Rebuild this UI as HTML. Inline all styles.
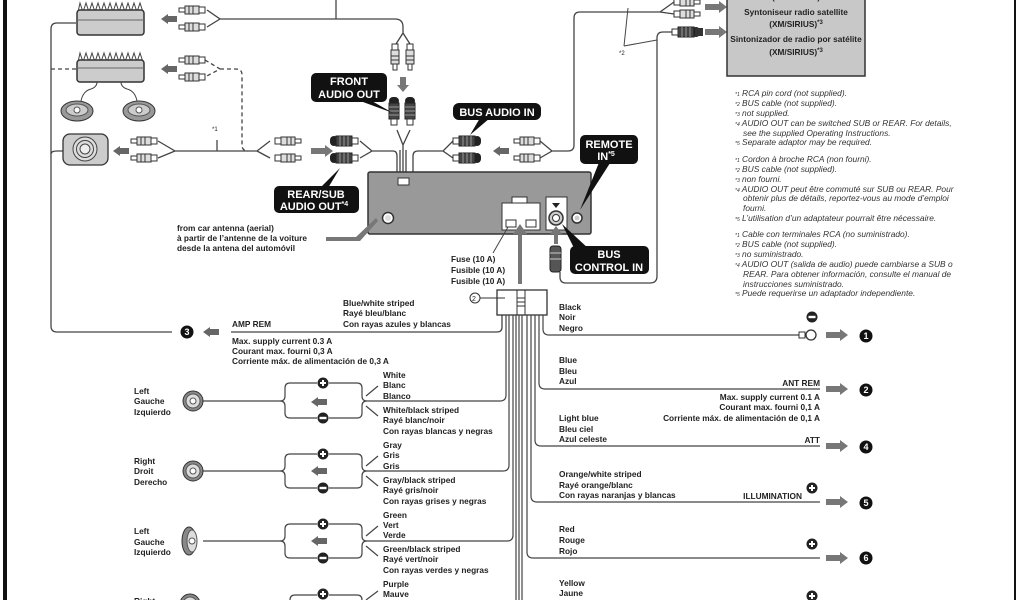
<!DOCTYPE html>
<html><head><meta charset="utf-8"><style>
html,body{margin:0;padding:0;background:#fff}
svg{display:block}
text{font-family:"Liberation Sans",sans-serif;font-weight:bold;font-size:8.3px;fill:#222}
.n{font-style:italic;font-weight:normal;font-size:8.4px;fill:#333}
.w{fill:#fff;font-size:11px}
.c{fill:#fff;font-size:9px;text-anchor:middle}
.r{text-anchor:end}
</style></head><body>
<svg width="1024" height="600" viewBox="0 0 1024 600" xmlns="http://www.w3.org/2000/svg">
<defs>
<g id="pl">
<rect x="0" y="-2" width="6" height="4" fill="#fff" stroke="#333" stroke-width="1"/>
<rect x="6" y="-4" width="14" height="8" fill="#ddd" stroke="#333" stroke-width="1"/>
<line x1="10" y1="-4" x2="10" y2="4" stroke="#333"/><line x1="14" y1="-4" x2="14" y2="4" stroke="#333"/>
<rect x="20" y="-3" width="6" height="6" fill="#fff" stroke="#333"/>
</g>
<g id="jk">
<rect x="0" y="-5" width="8" height="10" rx="4" fill="#222"/>
<rect x="6" y="-5" width="16" height="10" fill="#444" stroke="#222"/>
<line x1="10" y1="-5" x2="10" y2="5" stroke="#999"/><line x1="14" y1="-5" x2="14" y2="5" stroke="#999"/><line x1="18" y1="-5" x2="18" y2="5" stroke="#999"/>
<rect x="22" y="-3" width="6" height="6" fill="#fff" stroke="#333"/>
</g>
<g id="aL"><polygon points="0,0 7,-5 7,-3 16,-3 16,3 7,3 7,5" fill="#666"/></g>
<g id="aR"><polygon points="22,0 14,-6 14,-3 0,-3 0,3 14,3 14,6" fill="#777"/></g>
<g id="pm"><circle r="5.5" fill="#222"/><rect x="-3" y="-1" width="6" height="2" fill="#fff"/><rect x="-1" y="-3" width="2" height="6" fill="#fff"/></g>
<g id="mn"><circle r="5.5" fill="#222"/><rect x="-3.5" y="-1.2" width="7" height="2.4" fill="#fff"/></g>
<g id="spk"><circle r="10" fill="#888" stroke="#333"/><circle r="7" fill="#ddd" stroke="#555"/><circle r="3" fill="#fff" stroke="#555"/></g>
</defs>

<rect x="3" y="0" width="4" height="600" fill="#111"/>
<rect x="1014" y="0" width="2" height="600" fill="#111"/>

<g fill="none" stroke="#444" stroke-width="1.3">
<path d="M76,23 H57 q-6,0 -6,6 V326 q0,6 6,6 H172"/>
<path d="M231,332 H497 q5,0 5,-5 V315"/>
<path d="M51,154 q0,-3 6,-3 H63"/>
<path d="M207,10 L220,19 L207,27 M220,19 H395 q8,0 8,8 V33 L396,44 M403,33 L410,44"/>
<line x1="336" y1="0" x2="336" y2="19"/>
<path d="M397,130 L403,145 L410,130 M403,145 V183 M400,150 V183 M406,150 V183"/>
<path d="M158,141 L175,151 L158,158 M175,151 H257 L270,141 M257,151 L270,158"/>
<line x1="217" y1="140" x2="217" y2="151"/>
<path d="M360,141 L372,151 L360,158 M372,151 H393 q4,0 4,5 V183"/>
<path d="M453,141 L443,151 L453,158 M443,151 H418 q-5,0 -5,5 V183"/>
<path d="M540,141 L552,151 L540,158 M552,151 H568 q6,0 6,-6 V18 q0,-6 6,-6 H660 L674,2 M660,12 L674,14"/>
<path d="M628,8 L624,46 M657,40 L624,46" stroke-width="1"/>
<path d="M657,276 V38 q0,-6 6,-6 H672 M657,276 q0,7 -7,7 H566 q-6,0 -6,-6 V272"/>
</g>
<path d="M51,69 H76" fill="none" stroke="#444" stroke-width="1.3" stroke-dasharray="4,3"/>
<path d="M205,60 L220,69 L205,77 M220,69 H236 q6,0 6,6 V145 q0,6 6,6" fill="none" stroke="#444" stroke-width="1.3" stroke-dasharray="4,3"/>

<polyline points="78,12 80,3 83,12 86,3 89,12 92,3 95,12 98,3 101,12 104,3 107,12 110,3 113,12 116,3 119,12 122,3 125,12 128,3 131,12 134,3 137,12 140,3 143,12" fill="none" stroke="#444" stroke-width="1"/>
<rect x="77" y="10" width="67" height="25" rx="3" fill="#ccc" stroke="#333" stroke-width="1.5"/>
<line x1="77" y1="20" x2="144" y2="20" stroke="#666"/>
<polyline points="78,62 80,53 83,62 86,53 89,62 92,53 95,62 98,53 101,62 104,53 107,62 110,53 113,62 116,53 119,62 122,53 125,62 128,53 131,62 134,53 137,62 140,53 143,62" fill="none" stroke="#444" stroke-width="1"/>
<rect x="77" y="60" width="67" height="22" rx="3" fill="#ccc" stroke="#333" stroke-width="1.5"/>
<line x1="77" y1="68" x2="144" y2="68" stroke="#666"/>
<path d="M97,82 q0,5 -6,7 q-8,2 -10,12 M121,82 q0,5 6,7 q8,2 10,12" fill="none" stroke="#444"/>
<ellipse cx="77" cy="111" rx="16" ry="10" fill="#999" stroke="#333"/><ellipse cx="77" cy="110" rx="11" ry="6" fill="#ccc" stroke="#555"/><circle cx="77" cy="110" r="3" fill="#fff" stroke="#555"/>
<ellipse cx="139" cy="111" rx="16" ry="10" fill="#999" stroke="#333"/><ellipse cx="139" cy="110" rx="11" ry="6" fill="#ccc" stroke="#555"/><circle cx="139" cy="110" r="3" fill="#fff" stroke="#555"/>
<rect x="63" y="134" width="45" height="31" rx="7" fill="#ccc" stroke="#333" stroke-width="1.3"/>
<circle cx="85" cy="149" r="12" fill="#ddd" stroke="#444"/><circle cx="85" cy="149" r="8.5" fill="#ddd" stroke="#444"/><circle cx="85" cy="149" r="5" fill="#eee" stroke="#444"/>

<use href="#aL" x="161" y="19"/><use href="#aL" x="161" y="69"/><use href="#aL" x="113" y="151"/>
<use href="#pl" x="179" y="10"/><use href="#pl" x="179" y="27"/>
<use href="#pl" x="179" y="60"/><use href="#pl" x="179" y="77"/>
<use href="#pl" x="131" y="141"/><use href="#pl" x="131" y="158"/>
<use href="#pl" transform="translate(301,141) scale(-1,1)"/><use href="#pl" transform="translate(301,158) scale(-1,1)"/>
<use href="#aR" x="311" y="151"/>
<use href="#jk" x="330" y="141"/><use href="#jk" x="330" y="158"/>
<use href="#jk" transform="translate(453,141) scale(-1,1) translate(-28,0)"/>
<use href="#jk" transform="translate(453,158) scale(-1,1) translate(-28,0)"/>
<use href="#aL" x="493" y="151"/>
<use href="#pl" transform="translate(514,141)"/><use href="#pl" transform="translate(514,158)"/>
<use href="#pl" transform="translate(395,70) rotate(-90)"/><use href="#pl" transform="translate(410,70) rotate(-90)"/>
<polygon points="403,92 397,85 400,85 400,77 406,77 406,85 409,85" fill="#777"/>
<use href="#jk" transform="translate(394,97) rotate(90)"/><use href="#jk" transform="translate(410,97) rotate(90)"/>
<use href="#pl" transform="translate(700,2) scale(-1,1)"/><use href="#pl" transform="translate(700,14) scale(-1,1)"/>
<use href="#jk" transform="translate(672,32) scale(-1,1) translate(-28,0)"/>
<rect x="695" y="28" width="8" height="8" fill="#333"/>
<use href="#aR" x="705" y="7"/><use href="#aR" x="705" y="32"/>
<text x="619" y="55" style="font-size:6px;font-weight:normal">*2</text>
<text x="212" y="131" style="font-size:6px;font-weight:normal">*1</text>

<rect x="727" y="-2" width="138" height="78" fill="#c8c8c8" stroke="#333" stroke-width="1.5"/>
<text x="796" y="0" text-anchor="middle">(XM/SIRIUS)</text>
<text x="796" y="15" text-anchor="middle">Syntoniseur radio satellite</text>
<text x="796" y="27" text-anchor="middle">(XM/SIRIUS)<tspan dy="-3" font-size="6">*3</tspan></text>
<text x="796" y="42" text-anchor="middle">Sintonizador de radio por satélite</text>
<text x="796" y="55" text-anchor="middle">(XM/SIRIUS)<tspan dy="-3" font-size="6">*3</tspan></text>

<rect x="368" y="172" width="223" height="62" rx="2" fill="#999" stroke="#333" stroke-width="1.5"/>
<rect x="398" y="178" width="11" height="7" fill="#fff" stroke="#333"/>
<circle cx="388" cy="218" r="5.5" fill="#fff" stroke="#333" stroke-width="1.5"/><circle cx="388" cy="218" r="3" fill="#ddd"/>
<rect x="502" y="203" width="38" height="27" fill="#fff" stroke="#333"/>
<rect x="512" y="197" width="15" height="6" fill="#fff" stroke="#333"/>
<rect x="506" y="220" width="10" height="7" fill="#fff" stroke="#333"/><rect x="526" y="220" width="10" height="7" fill="#fff" stroke="#333"/>
<rect x="546" y="197" width="21" height="33" fill="#fff" stroke="#333"/>
<polygon points="552,203 560,203 556,208" fill="#222"/>
<circle cx="556" cy="218" r="7" fill="#ccc" stroke="#333" stroke-width="1.5"/><circle cx="556" cy="218" r="3.5" fill="#fff" stroke="#333"/>
<circle cx="577" cy="218" r="5" fill="#fff" stroke="#333" stroke-width="1.5"/><circle cx="577" cy="218" r="2.5" fill="#ccc"/>
<rect x="518" y="232" width="4" height="52" fill="#777"/><polygon points="520,224 513,234 527,234" fill="#777"/>
<rect x="554" y="232" width="4" height="12" fill="#777"/><polygon points="556,226 550,234 562,234" fill="#777"/>
<rect x="550" y="246" width="11" height="26" rx="3" fill="#555" stroke="#222"/>
<line x1="550" y1="253" x2="561" y2="253" stroke="#ccc"/><line x1="550" y1="259" x2="561" y2="259" stroke="#ccc"/>
<polygon points="326,237 356,237 376,218 378,221 360,241 326,241" fill="#777"/>
<line x1="508" y1="227" x2="493" y2="253" stroke="#444"/>

<polygon points="370,100 393,113 363,102" fill="#111"/>
<rect x="311" y="73" width="76" height="29" rx="5" fill="#111"/>
<text x="349" y="85" class="w" text-anchor="middle">FRONT</text><text x="349" y="98" class="w" text-anchor="middle">AUDIO OUT</text>
<polygon points="320,188 340,168 328,188" fill="#111"/>
<rect x="274" y="186" width="85" height="27" rx="5" fill="#111"/>
<text x="316" y="198" class="w" text-anchor="middle">REAR/SUB</text><text x="314" y="210" class="w" text-anchor="middle">AUDIO OUT<tspan font-size="7" dy="-4">*4</tspan></text>
<polygon points="480,118 490,118 470,135" fill="#111"/>
<rect x="453" y="103" width="88" height="17" rx="6" fill="#111"/>
<text x="497" y="116" class="w" text-anchor="middle">BUS AUDIO IN</text>
<polygon points="600,160 612,160 580,210" fill="#111"/>
<rect x="580" y="135" width="58" height="29" rx="5" fill="#111"/>
<text x="609" y="148" class="w" text-anchor="middle">REMOTE</text><text x="606" y="160" class="w" text-anchor="middle">IN<tspan font-size="7" dy="-4">*5</tspan></text>
<polygon points="575,250 590,250 562,224" fill="#111"/>
<rect x="570" y="246" width="79" height="28" rx="5" fill="#111"/>
<text x="609" y="258" class="w" text-anchor="middle">BUS</text><text x="609" y="271" class="w" text-anchor="middle">CONTROL IN</text>

<text x="177" y="231">from car antenna (aerial)</text>
<text x="177" y="241">à partir de l’antenne de la voiture</text>
<text x="177" y="251">desde la antena del automóvil</text>
<text x="451" y="262">Fuse (10 A)</text>
<text x="451" y="273">Fusible (10 A)</text>
<text x="451" y="284">Fusible (10 A)</text>

<g>
<text class="n" x="735" y="96"><tspan font-size="5">*1</tspan> RCA pin cord (not supplied).</text>
<text class="n" x="735" y="106"><tspan font-size="5">*2</tspan> BUS cable (not supplied).</text>
<text class="n" x="735" y="116"><tspan font-size="5">*3</tspan> not supplied.</text>
<text class="n" x="735" y="126"><tspan font-size="5">*4</tspan> AUDIO OUT can be switched SUB or REAR. For details,</text>
<text class="n" x="743" y="136">see the supplied Operating Instructions.</text>
<text class="n" x="735" y="145"><tspan font-size="5">*5</tspan> Separate adaptor may be required.</text>
<text class="n" x="735" y="162"><tspan font-size="5">*1</tspan> Cordon à broche RCA (non fourni).</text>
<text class="n" x="735" y="172"><tspan font-size="5">*2</tspan> BUS cable (not supplied).</text>
<text class="n" x="735" y="182"><tspan font-size="5">*3</tspan> non fourni.</text>
<text class="n" x="735" y="192"><tspan font-size="5">*4</tspan> AUDIO OUT peut être commuté sur SUB ou REAR. Pour</text>
<text class="n" x="743" y="201">obtenir plus de détails, reportez-vous au mode d’emploi</text>
<text class="n" x="743" y="211">fourni.</text>
<text class="n" x="735" y="221"><tspan font-size="5">*5</tspan> L’utilisation d’un adaptateur pourrait être nécessaire.</text>
<text class="n" x="735" y="237"><tspan font-size="5">*1</tspan> Cable con terminales RCA (no suministrado).</text>
<text class="n" x="735" y="247"><tspan font-size="5">*2</tspan> BUS cable (not supplied).</text>
<text class="n" x="735" y="257"><tspan font-size="5">*3</tspan> no suministrado.</text>
<text class="n" x="735" y="267"><tspan font-size="5">*4</tspan> AUDIO OUT (salida de audio) puede cambiarse a SUB o</text>
<text class="n" x="743" y="277">REAR. Para obtener información, consulte el manual de</text>
<text class="n" x="743" y="287">instrucciones suministrado.</text>
<text class="n" x="735" y="296"><tspan font-size="5">*5</tspan> Puede requerirse un adaptador independiente.</text>
</g>

<rect x="497" y="290" width="50" height="25" fill="#fff" stroke="#333" stroke-width="1.3"/>
<line x1="517" y1="290" x2="517" y2="315" stroke="#333"/><line x1="525" y1="290" x2="525" y2="315" stroke="#333"/>
<line x1="517" y1="298" x2="525" y2="298" stroke="#333"/><line x1="517" y1="302" x2="525" y2="302" stroke="#333"/><line x1="517" y1="306" x2="525" y2="306" stroke="#333"/>
<circle cx="475" cy="298" r="5" fill="#fff" stroke="#333"/><text x="472" y="301" style="font-size:7px;font-weight:normal">2</text>
<line x1="480" y1="298" x2="505" y2="298" stroke="#333"/>

<g fill="none" stroke="#444" stroke-width="1.2">
<path d="M543,315 V329 q0,6 6,6 H800"/>
<path d="M539,315 V383 q0,6 6,6 H820"/>
<path d="M535,315 V440 q0,6 6,6 H820"/>
<path d="M531,315 V496 q0,6 6,6 H820"/>
<path d="M527,315 V552 q0,6 6,6 H820"/>
<path d="M522,315 V600 M519,315 V600"/>
<path d="M506,315 V395 q0,6 -6,6 H367"/>
<path d="M509,315 V465 q0,6 -6,6 H367"/>
<path d="M513,315 V535 q0,6 -6,6 H367"/>
<path d="M516,315 V600"/>
<path d="M203,401 H280 q5,0 5,-5 V388 q0,-5 5,-5 H317 M329,383 H357 q5,0 5,5 V396 q0,5 5,5 q-5,0 -5,5 V413 q0,5 -5,5 H329 M317,418 H290 q-5,0 -5,-5 V406 q0,-5 -5,-5"/>
<path d="M203,471 H280 q5,0 5,-5 V459 q0,-5 5,-5 H317 M329,454 H357 q5,0 5,5 V466 q0,5 5,5 q-5,0 -5,5 V483 q0,5 -5,5 H329 M317,488 H290 q-5,0 -5,-5 V476 q0,-5 -5,-5"/>
<path d="M203,541 H280 q5,0 5,-5 V529 q0,-5 5,-5 H317 M329,524 H357 q5,0 5,5 V536 q0,5 5,5 q-5,0 -5,5 V553 q0,5 -5,5 H329 M317,558 H290 q-5,0 -5,-5 V546 q0,-5 -5,-5"/>
<path d="M290,600 q0,-5 5,-5 H317 M329,595 H357 q5,0 5,5"/>
<path d="M366,396 L378,386 M366,406 L378,416 M366,466 L378,456 M366,476 L378,486 M366,536 L378,526 M366,546 L378,556 M366,600 L378,591"/>
</g>
<use href="#pm" x="323" y="383"/><use href="#mn" x="323" y="418"/>
<use href="#pm" x="323" y="454"/><use href="#mn" x="323" y="488"/>
<use href="#pm" x="323" y="524"/><use href="#mn" x="323" y="558"/>
<use href="#pm" x="323" y="594"/>
<use href="#aL" x="311" y="402"/><use href="#aL" x="311" y="471"/><use href="#aL" x="311" y="541"/>
<use href="#spk" x="193" y="401"/><use href="#spk" x="193" y="471"/>
<ellipse cx="189" cy="541" rx="7" ry="14" fill="#888" stroke="#333"/><ellipse cx="192" cy="541" rx="5" ry="11" fill="#ddd" stroke="#555"/><circle cx="192" cy="541" r="3" fill="#fff" stroke="#555"/>
<use href="#spk" x="190" y="604"/>

<g transform="translate(187,332)"><circle r="6.5" fill="#111"/><text x="0" y="3" class="c">3</text></g>
<use href="#aL" x="203" y="332"/>
<text x="232" y="327">AMP REM</text>
<text x="232" y="344">Max. supply current 0.3 A</text>
<text x="232" y="354">Courant max. fourni 0,3 A</text>
<text x="232" y="364">Corriente máx. de alimentación de 0,3 A</text>
<text x="343" y="306">Blue/white striped</text>
<text x="343" y="316">Rayé bleu/blanc</text>
<text x="343" y="327">Con rayas azules y blancas</text>

<text x="383" y="378">White</text><text x="383" y="388">Blanc</text><text x="383" y="399">Blanco</text>
<text x="383" y="413">White/black striped</text><text x="383" y="423">Rayé blanc/noir</text><text x="383" y="434">Con rayas blancas y negras</text>
<text x="383" y="448">Gray</text><text x="383" y="458">Gris</text><text x="383" y="469">Gris</text>
<text x="383" y="483">Gray/black striped</text><text x="383" y="493">Rayé gris/noir</text><text x="383" y="504">Con rayas grises y negras</text>
<text x="383" y="518">Green</text><text x="383" y="528">Vert</text><text x="383" y="538">Verde</text>
<text x="383" y="552">Green/black striped</text><text x="383" y="562">Rayé vert/noir</text><text x="383" y="573">Con rayas verdes y negras</text>
<text x="383" y="587">Purple</text><text x="383" y="597">Mauve</text>
<text x="134" y="394">Left</text><text x="134" y="404">Gauche</text><text x="134" y="415">Izquierdo</text>
<text x="134" y="464">Right</text><text x="134" y="474">Droit</text><text x="134" y="485">Derecho</text>
<text x="134" y="534">Left</text><text x="134" y="545">Gauche</text><text x="134" y="555">Izquierdo</text>
<text x="134" y="604">Right</text>

<text x="559" y="310">Black</text><text x="559" y="320">Noir</text><text x="559" y="331">Negro</text>
<use href="#mn" x="812" y="317"/>
<circle cx="811" cy="335" r="5" fill="#fff" stroke="#333" stroke-width="1.3"/><rect x="799" y="332" width="6" height="6" fill="#fff" stroke="#333"/>
<text x="559" y="363">Blue</text><text x="559" y="374">Bleu</text><text x="559" y="384">Azul</text>
<text x="820" y="386" class="r">ANT REM</text>
<text x="820" y="400" class="r">Max. supply current 0.1 A</text>
<text x="820" y="410" class="r">Courant max. fourni 0,1 A</text>
<text x="820" y="421" class="r">Corriente máx. de alimentación de 0,1 A</text>
<text x="559" y="421">Light blue</text><text x="559" y="432">Bleu ciel</text><text x="559" y="442">Azul celeste</text>
<text x="820" y="443" class="r">ATT</text>
<text x="559" y="477">Orange/white striped</text><text x="559" y="488">Rayé orange/blanc</text><text x="559" y="498">Con rayas naranjas y blancas</text>
<text x="802" y="499" class="r">ILLUMINATION</text>
<use href="#pm" x="812" y="488"/>
<text x="559" y="532">Red</text><text x="559" y="543">Rouge</text><text x="559" y="554">Rojo</text>
<use href="#pm" x="812" y="544"/>
<text x="559" y="586">Yellow</text><text x="559" y="596">Jaune</text>
<use href="#pm" x="812" y="596"/>
<use href="#aR" x="826" y="335"/><use href="#aR" x="826" y="389"/><use href="#aR" x="826" y="446"/><use href="#aR" x="826" y="502"/><use href="#aR" x="826" y="558"/>
<g transform="translate(866,336)"><circle r="6.5" fill="#111"/><text x="0" y="3" class="c">1</text></g>
<g transform="translate(866,390)"><circle r="6.5" fill="#111"/><text x="0" y="3" class="c">2</text></g>
<g transform="translate(866,447)"><circle r="6.5" fill="#111"/><text x="0" y="3" class="c">4</text></g>
<g transform="translate(866,503)"><circle r="6.5" fill="#111"/><text x="0" y="3" class="c">5</text></g>
<g transform="translate(866,558)"><circle r="6.5" fill="#111"/><text x="0" y="3" class="c">6</text></g>
</svg>
</body></html>
